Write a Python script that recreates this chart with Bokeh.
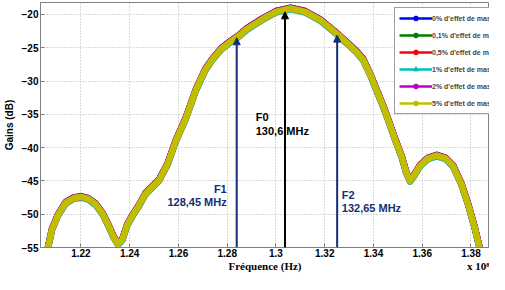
from bokeh.plotting import figure
from bokeh.models import (Range1d, FixedTicker, Legend, LegendItem, Arrow, NormalHead, LinearAxis)
from bokeh.core.properties import value
from bokeh.embed import file_html
from bokeh.resources import INLINE

# Frequency (x 10^8 Hz) and gain (dB)
freq = [1.2065, 1.2081, 1.2105, 1.2137, 1.2170, 1.2200, 1.2230, 1.2260, 1.2290, 1.2310,
        1.2335, 1.2352, 1.2370, 1.2390, 1.2415, 1.2438, 1.2465, 1.2490, 1.2520, 1.2555,
        1.2589, 1.2630, 1.2672, 1.2710, 1.2740, 1.2775, 1.2809, 1.2845, 1.2880, 1.2945,
        1.3000, 1.3060, 1.3120, 1.3180, 1.3240, 1.3289, 1.3330, 1.3358, 1.3390, 1.3413,
        1.3440, 1.3467, 1.3490, 1.3516, 1.3535, 1.3550, 1.3570, 1.3591, 1.3625, 1.3660,
        1.3695, 1.3727, 1.3760, 1.3788, 1.3815, 1.3835]
gain = [-55.0, -52.3, -50.2, -48.3, -47.6, -47.4, -47.7, -48.5, -50.0, -51.5,
        -53.5, -54.5, -53.8, -51.6, -50.0, -48.7, -46.9, -46.0, -44.9, -42.5,
        -39.0, -35.6, -31.3, -28.3, -26.7, -25.2, -24.2, -23.3, -22.2, -20.7,
        -19.6, -19.1, -19.6, -20.8, -22.6, -24.2, -25.6, -26.8, -29.3, -31.4,
        -33.8, -36.5, -38.9, -41.4, -43.8, -45.0, -44.0, -42.7, -41.6, -41.2,
        -41.6, -42.8, -45.4, -48.5, -52.0, -55.0]

series_labels = ["0% d'effet de masse", "0,1% d'effet de masse", "0,5% d'effet de masse",
                 "1% d'effet de masse", "2% d'effet de masse", "5% d'effet de masse"]
series_colors = ["#0000ff", "#008000", "#ff0000", "#00bfbf", "#bf00bf", "#bfbf00"]
series_markers = ["circle", "circle", "circle", "triangle", "circle", "circle"]
series_marker_size = [7, 3, 5, 5, 3, 6]
mass_shift_db = [0.12, 0.03, 0.08, -0.12, 0.02, 0.0]

x_ticks = [1.22, 1.24, 1.26, 1.28, 1.30, 1.32, 1.34, 1.36, 1.38]
x_tick_labels = ["1.22", "1.24", "1.26", "1.28", "1.3", "1.32", "1.34", "1.36", "1.38"]
y_ticks = [-55, -50, -45, -40, -35, -30, -25, -20]
# second row under the axis: title (centred) and the x 10^8 multiplier (right)
row2_pos = [1.2955, 1.3834]
row2_text = ["Fréquence (Hz)", "x 10⁸"]

markers_x = [1.2839, 1.3037, 1.3251]
markers_tip = [-23.5, -19.6, -23.1]
markers_name = ["F1", "F0", "F2"]
markers_text = ["128,45 MHz", "130,6 MHz", "132,65 MHz"]
markers_color = ["#142f73", "#000000", "#142f73"]

FONT = "Liberation Sans"

p = figure(width=489, height=274, output_backend="svg", toolbar_location=None,
           x_range=Range1d(1.2034, 1.3876), y_range=Range1d(-55, -18.2),
           min_border_left=34, min_border_right=0, min_border_top=2, min_border_bottom=0)

p.outline_line_color = "#808080"
for ax in (p.xaxis[0], p.yaxis[0]):
    ax.axis_line_color = "#808080"
    ax.major_tick_line_color = "#808080"
    ax.major_tick_in = 4
    ax.major_tick_out = 0
    ax.minor_tick_line_color = None
    ax.major_label_text_font = FONT
    ax.major_label_text_font_style = "bold"
    ax.major_label_text_font_size = "10px"
    ax.major_label_text_color = "#000000"
    ax.axis_label_text_font_style = "bold"
    ax.axis_label_text_color = "#000000"

p.xaxis.ticker = FixedTicker(ticks=x_ticks)
p.xaxis.major_label_overrides = {t: l for t, l in zip(x_ticks, x_tick_labels)}
p.xaxis.major_label_standoff = 1

ax2 = LinearAxis(ticker=FixedTicker(ticks=row2_pos),
                 major_label_overrides={t: l for t, l in zip(row2_pos, row2_text)})
ax2.axis_line_color = None
ax2.major_tick_line_color = None
ax2.minor_tick_line_color = None
ax2.major_tick_in = 0
ax2.major_tick_out = 0
ax2.major_label_standoff = 0
ax2.major_label_text_font = "Liberation Serif"
ax2.major_label_text_font_style = "bold"
ax2.major_label_text_font_size = "11px"
ax2.major_label_text_color = "#000000"
p.add_layout(ax2, "below")

p.yaxis.ticker = FixedTicker(ticks=y_ticks)
p.yaxis.major_label_standoff = 2
p.yaxis.axis_label = "Gains (dB)"
p.yaxis.axis_label_text_font = FONT
p.yaxis.axis_label_text_font_size = "10px"
p.yaxis.axis_label_standoff = 4

p.xgrid.ticker = FixedTicker(ticks=x_ticks)
for g in (p.xgrid[0], p.ygrid[0]):
    g.grid_line_color = "#b4b4b4"
    g.grid_line_dash = "1 2"
    g.grid_line_width = 1

# curves
for lab, col, sh in zip(series_labels, series_colors, mass_shift_db):
    p.line(freq, [v + sh for v in gain], line_color=col, line_width=6.5,
           line_join="round", line_cap="round")

# arrows and labels
for mx, tip, col in zip(markers_x, markers_tip, markers_color):
    p.add_layout(Arrow(end=NormalHead(size=7, fill_color=col, line_color=col, line_width=1),
                       x_start=mx, y_start=-55, x_end=mx, y_end=tip,
                       line_color=col, line_width=2))

text_kw = dict(text_font=value(FONT), text_font_style="bold", text_font_size="11px",
               text_baseline="middle")
p.text(x=[1.2917, 1.2917], y=[-35.4, -37.5], text=[markers_name[1], markers_text[1]],
       text_color=markers_color[1], text_align="left", **text_kw)
p.text(x=[1.2798, 1.2798], y=[-46.2, -48.1], text=[markers_name[0], markers_text[0]],
       text_color=markers_color[0], text_align="right", **text_kw)
p.text(x=[1.3270, 1.3270], y=[-47.1, -49.0], text=[markers_name[2], markers_text[2]],
       text_color=markers_color[2], text_align="left", **text_kw)

# legend (thin lines with markers); renderers hold points outside the view
items = []
for lab, col, mk, ms in zip(series_labels, series_colors, series_markers, series_marker_size):
    lr = p.line([1.0, 1.01], [-100, -100], line_color=col, line_width=2.5)
    sr = p.scatter([1.0], [-100], marker=mk, size=ms, fill_color=col, line_color=col)
    items.append(LegendItem(label=lab, renderers=[lr, sr]))

legend = Legend(items=items, location=(354, 133))
legend.label_text_font = FONT
legend.label_text_font_style = "bold"
legend.label_text_font_size = "7px"
legend.label_standoff = 0
legend.glyph_width = 33
legend.glyph_height = 12
legend.label_height = 12
legend.spacing = 5
legend.padding = 4
legend.margin = 0
legend.border_line_color = "#404040"
legend.border_line_width = 1
legend.background_fill_alpha = 1.0
p.add_layout(legend)

open("out.html", "w").write(file_html(p, INLINE))
